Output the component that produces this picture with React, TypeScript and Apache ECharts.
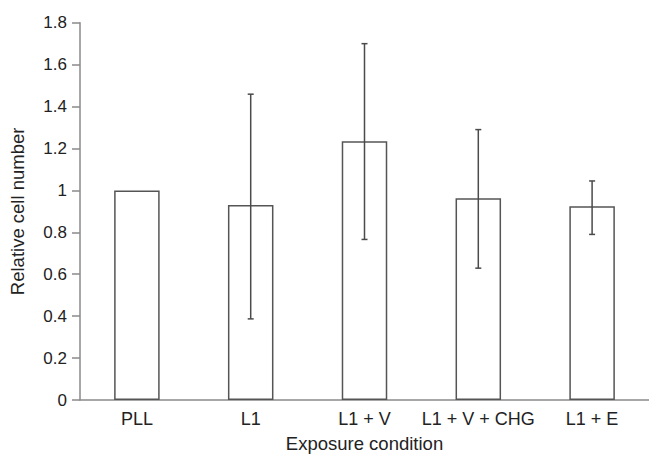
import React, { useEffect, useRef } from "react";
import * as echarts from "echarts";

const categories = ["PLL", "L1", "L1 + V", "L1 + V + CHG", "L1 + E"];
const means = [1.0, 0.93, 1.235, 0.963, 0.924];
const errLow = [1.0, 0.387, 0.766, 0.629, 0.79];
const errHigh = [1.0, 1.459, 1.7, 1.29, 1.045];
const yTicks = [0, 0.2, 0.4, 0.6, 0.8, 1, 1.2, 1.4, 1.6, 1.8];

const FONT = "Liberation Sans, Arial, sans-serif";

export default function App() {
  const ref = useRef<HTMLDivElement>(null);
  useEffect(() => {
    if (!ref.current) return;
    const chart = echarts.init(ref.current, null, { renderer: "svg" });
    const errData = categories
      .map((c, i) => [i, errLow[i], errHigh[i]])
      .filter((d) => d[1] !== d[2]);
    chart.setOption({
      animation: false,
      backgroundColor: "#fff",
      grid: { left: 80, top: 22.7, width: 572, height: 381.3, containLabel: false },
      xAxis: {
        type: "category",
        data: categories,
        axisLine: { show: true, lineStyle: { color: "#8a8a8a", width: 1.5 } },
        axisTick: { show: false },
        axisLabel: { color: "#222", fontSize: 18, fontFamily: FONT, margin: 10, interval: 0 },
        name: "Exposure condition",
        nameLocation: "middle",
        nameGap: 34,
        nameTextStyle: { color: "#222", fontSize: 18.5, fontFamily: FONT },
      },
      yAxis: {
        type: "value",
        min: 0,
        max: 1.8,
        interval: 0.2,
        splitLine: { show: false },
        axisLine: { show: true, lineStyle: { color: "#8a8a8a", width: 1.5 } },
        axisTick: { show: true, length: 8, inside: false, lineStyle: { color: "#8a8a8a", width: 1.5 } },
        axisLabel: {
          color: "#222",
          fontSize: 17,
          fontFamily: FONT,
          margin: 13,
          formatter: (v: number) => {
            const t = yTicks.find((x) => Math.abs(x - v) < 1e-6);
            return t === undefined ? "" : String(Math.round(t * 10) / 10);
          },
        },
        name: "Relative cell number",
        nameLocation: "middle",
        nameGap: 53,
        nameTextStyle: { color: "#222", fontSize: 18.5, fontFamily: FONT },
      },
      series: [
        {
          type: "bar",
          data: means,
          barWidth: "40%",
          itemStyle: { color: "#fff", borderColor: "#555", borderWidth: 1.5 },
          z: 2,
        },
        {
          type: "custom",
          data: errData,
          z: 3,
          renderItem: (params: any, api: any) => {
            const x = api.value(0);
            const lo = api.coord([x, api.value(1)]);
            const hi = api.coord([x, api.value(2)]);
            const cap = 3;
            const style = { stroke: "#4a4a4a", lineWidth: 1.5 };
            return {
              type: "group",
              children: [
                { type: "line", shape: { x1: hi[0], y1: hi[1], x2: lo[0], y2: lo[1] }, style },
                { type: "line", shape: { x1: hi[0] - cap, y1: hi[1], x2: hi[0] + cap, y2: hi[1] }, style },
                { type: "line", shape: { x1: lo[0] - cap, y1: lo[1], x2: lo[0] + cap, y2: lo[1] }, style },
              ],
            };
          },
        },
      ],
    });
    return () => chart.dispose();
  }, []);
  return (
    <div
      ref={ref}
      style={{ position: "fixed", left: 0, top: 0, width: 649, height: 458, background: "#fff" }}
    />
  );
}
